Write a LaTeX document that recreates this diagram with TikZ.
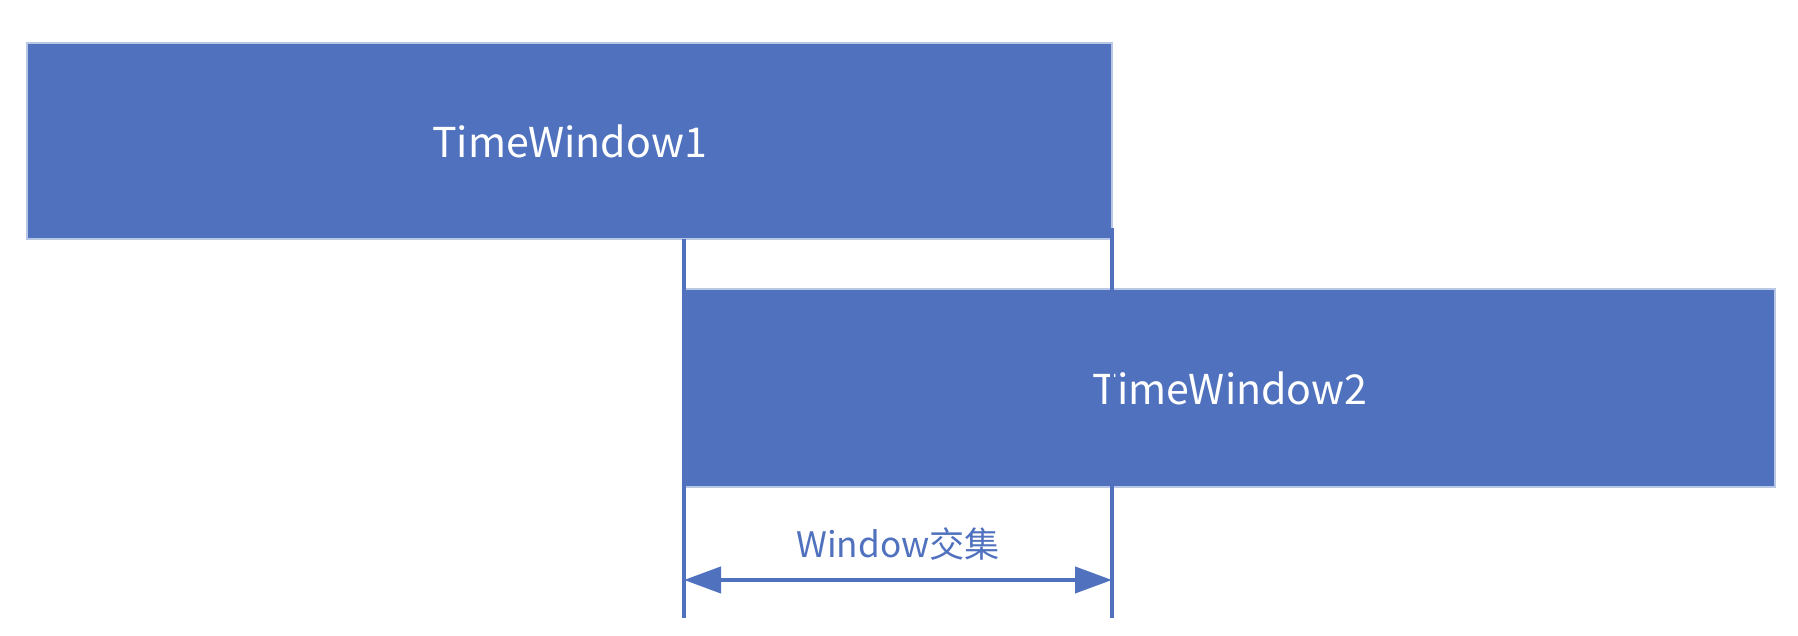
\documentclass[tikz,border=0pt]{standalone}
\usepackage{fontspec}
\setmainfont{Noto Sans CJK SC}
\usetikzlibrary{arrows.meta,calc}
\definecolor{winblue}{RGB}{80,114,190}

\begin{document}
\begin{tikzpicture}[color=winblue]
\def\lw{1.2pt}
\tikzset{
  window/.style={fill=winblue, draw=winblue!40, line width=.4pt, text=white,
    font=\fontsize{11.7}{13}\selectfont, inner sep=0pt},
  bound/.style={line width=\lw},
  span/.style={line width=\lw, {Triangle[length=3.7mm,width=2.6mm]}-{Triangle[length=3.7mm,width=2.6mm]}}
}
\useasboundingbox (0,0) rectangle (17.98,6.36);

\node[window, minimum width=10.85cm, minimum height=1.96cm] (w1) at (5.695,4.95) {TimeWindow1};
\node[window, minimum width=10.90cm, minimum height=1.98cm] (w2) at (12.30,2.48) {TimeWindow2};

\coordinate (l1) at (6.84,3.97);
\coordinate (l2) at (6.84,0.18);
\coordinate (r1) at (11.12,4.08);
\coordinate (r2) at (11.12,0.18);

% boundaries of the overlap
\draw[bound] (l1) -- (l2);
\draw[bound] (r1) -- (r2);

\draw[span] (l1 |- 0,0.56) -- (r1 |- 0,0.56);

\node[anchor=base, font=\fontsize{10}{12}\selectfont] (inter) at (8.98,0.78) {Window交集};

\end{tikzpicture}
\end{document}
